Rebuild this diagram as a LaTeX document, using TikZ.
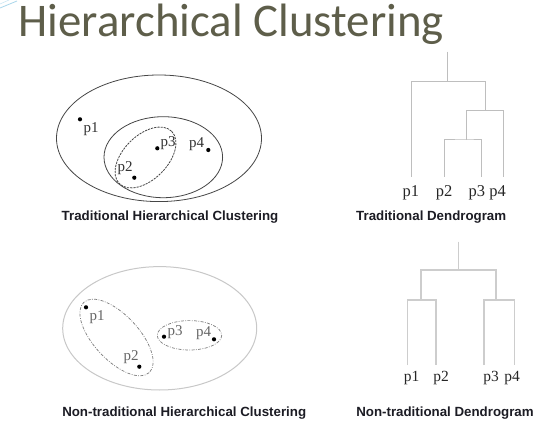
\documentclass[tikz,border=0pt]{standalone}
\usepackage{fontspec}
\setmainfont{Liberation Serif}
\newfontfamily\titlefont{Carlito}
\newfontfamily\capfont{Liberation Sans}
\definecolor{titlecol}{RGB}{94,94,74}
\definecolor{capcol}{RGB}{28,28,36}
\definecolor{ringdark}{RGB}{70,70,70}
\definecolor{ringlight}{RGB}{200,200,200}
\definecolor{dashgray}{RGB}{125,125,125}
\definecolor{denda}{RGB}{190,190,190}
\definecolor{dendb}{RGB}{205,205,205}
\definecolor{accent}{RGB}{170,215,235}
\begin{document}
\begin{tikzpicture}[x=1pt,y=-1pt,
  heading/.style={font=\titlefont\fontsize{46.8}{50}\selectfont, text=titlecol, anchor=base west, inner sep=0},
  caption/.style={font=\capfont\bfseries\fontsize{13.3}{15}\selectfont, text=capcol, inner sep=0},
  dot/.style={circle, fill=black, inner sep=0, minimum size=4.2pt},
  ptlabel/.style={font=\fontsize{15}{17}\selectfont, text=#1, inner sep=0},
  leaflabel/.style={font=\fontsize{#1}{18}\selectfont, text=black!85, inner sep=0},
  outerdark/.style={draw=ringdark, line width=0.8pt},
  innerdash/.style={draw=ringdark, line width=0.8pt, dash pattern=on 2.2pt off 1pt},
  outerlight/.style={draw=ringlight, line width=1pt},
  clusterdash/.style={draw=dashgray, line width=0.7pt, dash pattern=on 3pt off 1.4pt on 0.8pt off 1.4pt},
  dendtop/.style={draw=denda, line width=1pt},
  dendbot/.style={draw=dendb, line width=1.1pt}]
\useasboundingbox[fill=white] (0,0) rectangle (538,422);

% corner accent strokes
\draw[accent, line width=0.8pt] (0,8) -- (17,1);
\draw[accent!60, line width=0.6pt] (0,4) -- (9,0);

% heading
\node[heading] (title) at (18.5,37) {Hierarchical Clustering};

% ---- traditional nested clusters ----
\draw[outerdark] (159,138.3) ellipse [x radius=102.5, y radius=63.3];
\draw[outerdark] (163.3,157.2) ellipse [x radius=59.3, y radius=40.5];
\draw[innerdash, rotate around={45:(145.5,157.5)}] (145.5,157.5) ellipse [x radius=37, y radius=22];

\node[dot] (a1) at (80,119.3) {};
\node[dot] (a2) at (134.3,177.7) {};
\node[dot] (a3) at (157.3,148.3) {};
\node[dot] (a4) at (208.3,150) {};
\node[ptlabel=black!80] (la1) at (91,129) {p1};
\node[ptlabel=black!80] (la2) at (125,168) {p2};
\node[ptlabel=black!80] (la3) at (168,143) {p3};
\node[ptlabel=black!80] (la4) at (196.5,144.5) {p4};

\node[caption] (capA) at (170,217.5) {Traditional Hierarchical Clustering};

% ---- traditional dendrogram ----
\coordinate (troot) at (447.3,51.7);
\coordinate (tj) at (447.3,81.7);
\coordinate (tk) at (485,110.7);
\coordinate (tm) at (466,140);
\coordinate (tl1) at (411,176.7);
\coordinate (tl2) at (444.3,176.7);
\coordinate (tl3) at (481.7,176.7);
\coordinate (tl4) at (503.3,176.7);
\draw[dendtop] (troot) -- (tj);
\draw[dendtop] (tl1) |- (tj) -| (tk);
\draw[dendtop] (tm) |- (tk) -| (tl4);
\draw[dendtop] (tl2) |- (tm) -| (tl3);
\node[leaflabel=16.5] (tp1) at (410.8,192.5) {p1};
\node[leaflabel=16.5] (tp2) at (444,192.5) {p2};
\node[leaflabel=16.5] (tp3) at (476.8,192.5) {p3};
\node[leaflabel=16.5] (tp4) at (497.5,192.5) {p4};

\node[caption] (capB) at (431.2,217.3) {Traditional Dendrogram};

% ---- non-traditional clusters ----
\draw[outerlight] (159.7,328.3) ellipse [x radius=97, y radius=61.7];
\draw[clusterdash, rotate around={-47:(116.5,337.5)}] (116.5,337.5) ellipse [x radius=48, y radius=22.5];
\draw[clusterdash] (189.5,335.3) ellipse [x radius=32.2, y radius=14.7];

\node[dot] (b1) at (86,307.3) {};
\node[dot] (b2) at (139.3,366.7) {};
\node[dot] (b3) at (164,336.7) {};
\node[dot] (b4) at (214,339.3) {};
\node[ptlabel=black!60] (lb1) at (97,317) {p1};
\node[ptlabel=black!60] (lb2) at (131,357.5) {p2};
\node[ptlabel=black!60] (lb3) at (175,332.5) {p3};
\node[ptlabel=black!60] (lb4) at (203.5,333.5) {p4};

\node[caption] (capC) at (184.2,413) {Non-traditional Hierarchical Clustering};

% ---- non-traditional dendrogram ----
\coordinate (broot) at (458.3,241.7);
\coordinate (bj) at (458.3,270);
\coordinate (bL) at (420.7,300);
\coordinate (bR) at (496,300);
\coordinate (bl1) at (407.3,365);
\coordinate (bl2) at (436,365);
\coordinate (bl3) at (484,365);
\coordinate (bl4) at (514.3,365);
\draw[dendbot] (broot) -- (bj);
\draw[dendbot, line width=1.6pt] (bL) |- (bj) -| (bR);
\draw[dendbot] (bl1) |- (bL) -| (bl2);
\draw[dendbot] (bl3) |- (bR) -| (bl4);
\node[leaflabel=15.5] (bp1) at (411.7,378.5) {p1};
\node[leaflabel=15.5] (bp2) at (441,378.5) {p2};
\node[leaflabel=15.5] (bp3) at (491,378.5) {p3};
\node[leaflabel=15.5] (bp4) at (512,378.5) {p4};

\node[caption] (capD) at (445,413) {Non-traditional Dendrogram};
\end{tikzpicture}
\end{document}
